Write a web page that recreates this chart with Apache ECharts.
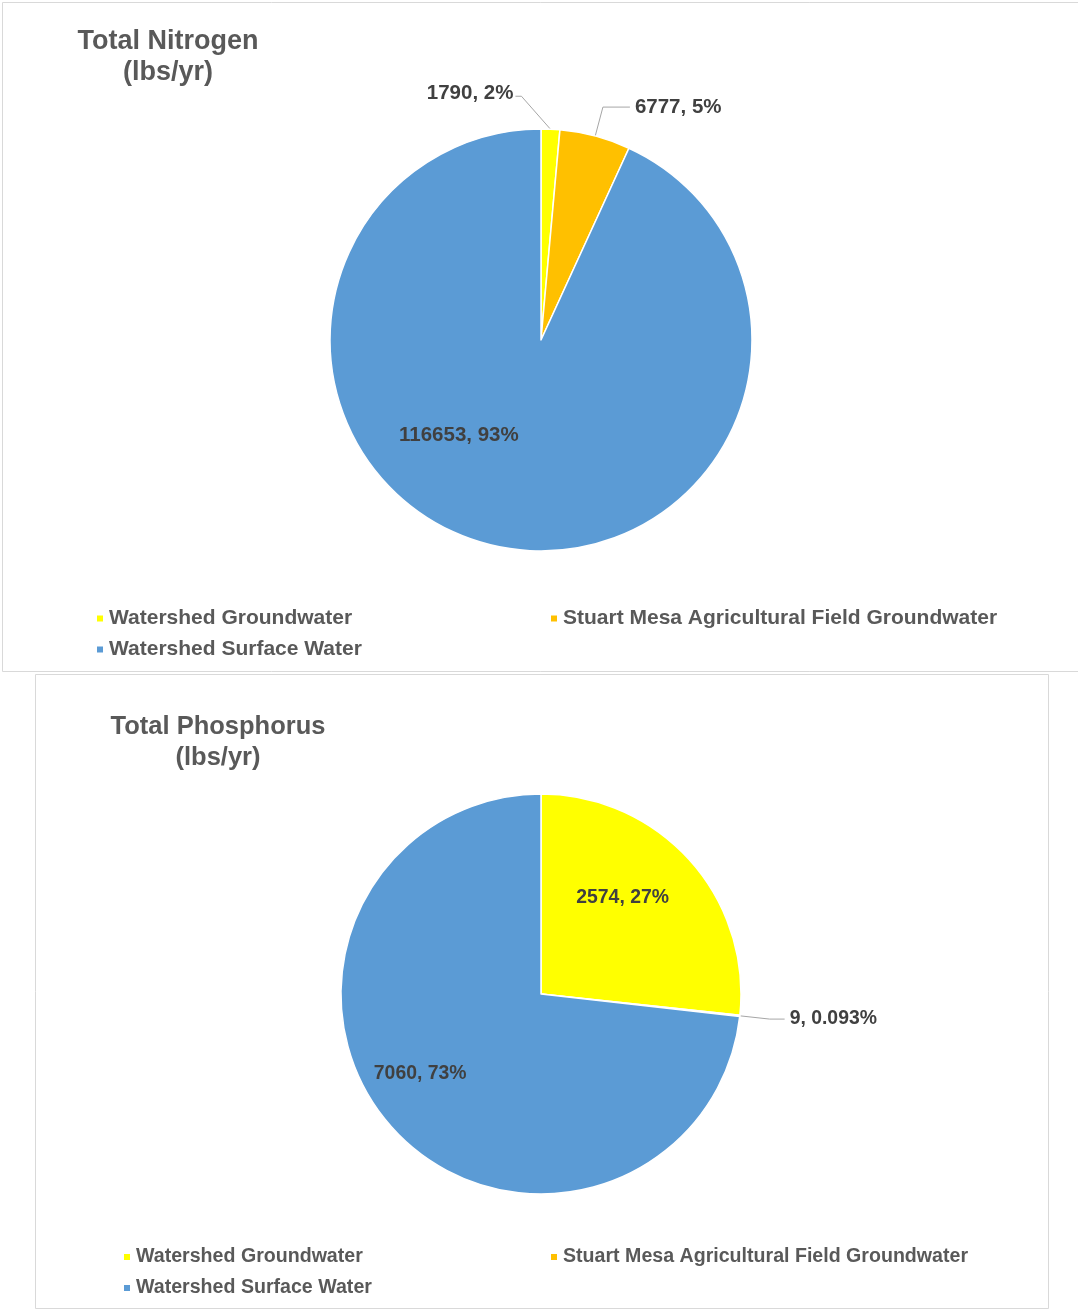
<!DOCTYPE html>
<html><head><meta charset="utf-8">
<script src="https://cdn.jsdelivr.net/npm/echarts@6/dist/echarts.min.js"></script>
<style>html,body{margin:0;padding:0;background:#fff}#c{width:1078px;height:1311px}</style>
</head><body><div id="c"></div>
<script>
// ---- data ----
const categories = ['Watershed Groundwater', 'Stuart Mesa Agricultural Field Groundwater', 'Watershed Surface Water'];
const nitrogenValues = [1790, 6777, 116653];
const nitrogenPercentLabels = ['2%', '5%', '93%'];
const phosphorusValues = [2574, 9, 7060];
const phosphorusPercentLabels = ['27%', '0.093%', '73%'];
const chartTitles = ['Total Nitrogen\n(lbs/yr)', 'Total Phosphorus\n(lbs/yr)'];

// ---- styles ----
const sliceColors = ['#FFFF00', '#FFC000', '#5B9BD5'];
const FONT = "'Liberation Sans', Arial, sans-serif";

function buildData(values, pcts, cfg) {
  return values.map((v, i) => ({
    name: categories[i], value: v, pct: pcts[i],
    itemStyle: { color: sliceColors[i] },
    label: cfg[i].label, labelLine: cfg[i].labelLine
  }));
}

const nitrogenCfg = [
  { label: { position: 'outside' }, labelLine: { show: true, length: 30, length2: 8 } },
  { label: { position: 'outside' }, labelLine: { show: true, length: 30, length2: 27 } },
  { label: { position: 'inside' }, labelLine: { show: false } }
];
// label offsets [dx, dy, reroute leader line to the left side]
const nitrogenShift = [[-138, -6, true], [0, 0, false], [-59, -11, false]];

const phosphorusCfg = [
  { label: { position: 'inside' }, labelLine: { show: false } },
  { label: { position: 'outside' }, labelLine: { show: true, length: 30, length2: 15 } },
  { label: { position: 'inside' }, labelLine: { show: false } }
];
const phosphorusShift = [[5, -27, false], [0, 0, false], [-44, 11, false]];

function pieSeries(values, pcts, cfg, shift, center, radius, fontSize) {
  return {
    type: 'pie', center: center, radius: radius, startAngle: 90, clockwise: true,
    avoidLabelOverlap: false, silent: true,
    itemStyle: { borderColor: '#ffffff', borderWidth: 1.5 },
    label: { show: true, formatter: p => p.value + ', ' + p.data.pct,
             color: '#404040', fontFamily: FONT, fontWeight: 'bold', fontSize: fontSize },
    labelLine: { lineStyle: { color: '#a6a6a6', width: 1 } },
    labelLayout: function (p) {
      const s = shift[p.dataIndex];
      if (!s[0] && !s[1]) return {};
      const out = { dx: s[0], dy: s[1] };
      if (s[2] && p.labelLinePoints) {
        const r = p.labelRect;
        const right = r.x + r.width + s[0];
        const cy = r.y + r.height / 2 + s[1];
        out.labelLinePoints = [p.labelLinePoints[0].slice(), [right + 8, cy + 3], [right + 2, cy + 3]];
      }
      return out;
    },
    data: buildData(values, pcts, cfg)
  };
}

function legendItem(name, left, top, fontSize) {
  return {
    data: [name], left: left, top: top, orient: 'horizontal', padding: 0,
    icon: 'rect', itemWidth: 8, itemHeight: 8, itemGap: 5, selectedMode: false,
    textStyle: { color: '#595959', fontFamily: FONT, fontWeight: 'bold', fontSize: fontSize }
  };
}

const titleBase = { color: '#595959', fontFamily: FONT, fontWeight: 'bold', lineHeight: 31 };

const option = {
  backgroundColor: '#ffffff',
  animation: false,
  color: sliceColors,
  title: [
    { text: chartTitles[0], left: 168, top: 26, padding: 0, textAlign: 'center', textStyle: Object.assign({ fontSize: 27 }, titleBase) },
    { text: chartTitles[1], left: 218, top: 711, padding: 0, textAlign: 'center', textStyle: Object.assign({ fontSize: 25.5 }, titleBase) }
  ],
  legend: [
    legendItem(categories[0], 95, 608, 21),
    legendItem(categories[1], 549, 608, 21),
    legendItem(categories[2], 95, 639, 21),
    legendItem(categories[0], 122, 1247, 19.6),
    legendItem(categories[1], 549, 1247, 19.6),
    legendItem(categories[2], 122, 1278, 19.6)
  ],
  graphic: [
    { type: 'rect', shape: { x: 2.5, y: 2.5, width: 1090, height: 669 }, style: { fill: 'none', stroke: '#d9d9d9', lineWidth: 1 }, silent: true },
    { type: 'rect', shape: { x: 35.5, y: 674.5, width: 1013, height: 634 }, style: { fill: 'none', stroke: '#d9d9d9', lineWidth: 1 }, silent: true }
  ],
  series: [
    pieSeries(nitrogenValues, nitrogenPercentLabels, nitrogenCfg, nitrogenShift, [541, 340], 211, 20.5),
    pieSeries(phosphorusValues, phosphorusPercentLabels, phosphorusCfg, phosphorusShift, [541, 994], 200, 19.4)
  ]
};

const chart = echarts.init(document.getElementById('c'), null, { renderer: 'canvas' });
chart.setOption(option);
</script>
</body></html>
